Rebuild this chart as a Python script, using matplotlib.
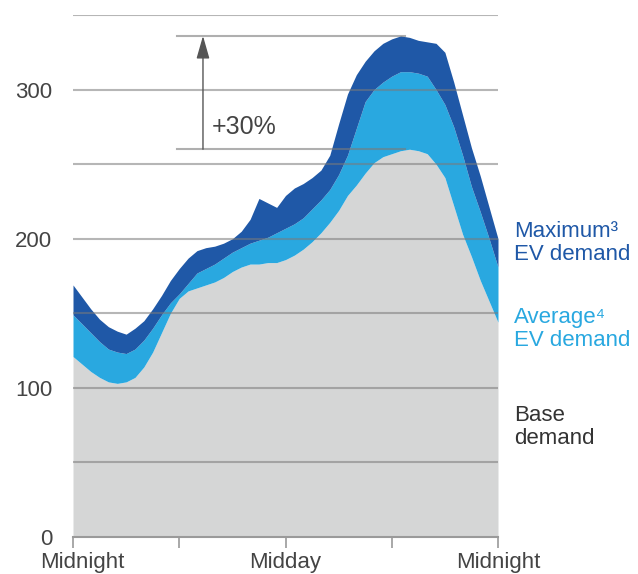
import matplotlib
matplotlib.use("Agg")
import matplotlib.pyplot as plt
from matplotlib.transforms import ScaledTranslation
from matplotlib.patches import ArrowStyle

plt.rcParams['font.family'] = ['Liberation Sans', 'DejaVu Sans']

# --- data (half-hourly, hours after midnight) ---
hours = [i * 0.5 for i in range(49)]
base_demand = [121, 116, 111, 107, 104, 103, 104, 107, 114, 124,
               137, 150, 160, 165, 167, 169, 171, 174, 178, 181,
               183, 183, 184, 184, 186, 189, 193, 198, 204, 211,
               219, 229, 236, 244, 251, 255, 257, 259, 260, 259,
               257, 250, 241, 222, 203, 188, 172, 158, 144]
average_ev = [149, 143, 137, 131, 126, 124, 123, 126, 132, 140,
              149, 157, 163, 170, 177, 180, 183, 187, 191, 194,
              197, 199, 201, 204, 207, 210, 214, 220, 226, 233,
              243, 256, 274, 292, 300, 305, 309, 312, 312, 311,
              309, 300, 290, 275, 256, 235, 218, 200, 181]
maximum_ev = [169, 161, 153, 146, 141, 138, 136, 140, 145, 153,
              162, 172, 180, 187, 192, 194, 195, 197, 200, 205,
              213, 227, 224, 221, 229, 234, 237, 241, 246, 256,
              277, 297, 310, 319, 326, 331, 334, 336, 335, 333,
              332, 331, 325, 305, 283, 261, 242, 221, 200]

y_ticks = [0, 100, 200, 300]
grid_vals = [50, 100, 150, 200, 250, 300, 350]
x_ticks = [0, 6, 12, 18, 24]
x_labels = ["Midnight", "", "Midday", "", "Midnight"]
ref_low, ref_high = 260, 336
ref_label = "+30%"

c_base = "#d5d6d6"
c_avg = "#29a8e0"
c_max = "#1f58a7"

fig = plt.figure(figsize=(6.38, 5.74), dpi=100)
ax = fig.add_axes([73 / 638, 37 / 574, 425 / 638, 522 / 574])

ax.fill_between(hours, 0, base_demand, color=c_base, lw=0, zorder=1)
ax.fill_between(hours, base_demand, average_ev, color=c_avg, lw=0, zorder=1)
ax.fill_between(hours, average_ev, maximum_ev, color=c_max, lw=0, zorder=1)

for g in grid_vals:
    ax.axhline(g, color="#7a7a7a", alpha=0.55, lw=1.5, zorder=3)

# +30% reference
x0, x1 = 5.87, 18.75
ax.plot([x0, x1], [ref_high, ref_high], color="#7a7a7a", alpha=0.6, lw=1.5, zorder=4)
ax.plot([x0, x1], [ref_low, ref_low], color="#7a7a7a", alpha=0.6, lw=1.5, zorder=4)
ax.annotate("", xy=(7.34, ref_high), xytext=(7.34, ref_low),
            arrowprops=dict(arrowstyle=ArrowStyle("-|>", head_length=1.4, head_width=0.4),
                            mutation_scale=10, color="#555555", lw=1.0,
                            shrinkA=0, shrinkB=0), zorder=5)
ax.text(7.85, 275, ref_label, fontsize=18, color="#444444", va="center", ha="left", zorder=6)

ax.set_xlim(0, 24)
ax.set_ylim(0, 350)
for s in ["left", "top", "right"]:
    ax.spines[s].set_visible(False)
ax.spines["bottom"].set_color("#9a9a9a")
ax.spines["bottom"].set_linewidth(1.5)
ax.spines["bottom"].set_zorder(6)

ax.set_yticks(y_ticks)
ax.set_yticklabels([str(v) for v in y_ticks])
ax.tick_params(axis="y", length=0, pad=15, labelsize=16, labelcolor="#444444")
ax.set_xticks(x_ticks)
ax.set_xticklabels(x_labels)
ax.tick_params(axis="x", length=8, width=1.2, color="#9a9a9a", pad=3,
               labelsize=16, labelcolor="#444444")
lbl = ax.get_xticklabels()[0]
lbl.set_transform(lbl.get_transform() + ScaledTranslation(0.09, 0, fig.dpi_scale_trans))

fig.text(514 / 638, 1 - 221 / 574, "Maximum³\nEV demand", color=c_max, fontsize=16,
         va="top", ha="left", linespacing=1.15)
fig.text(514 / 638, 1 - 307 / 574, "Average⁴\nEV demand", color=c_avg, fontsize=16,
         va="top", ha="left", linespacing=1.15)
fig.text(514 / 638, 1 - 405 / 574, "Base\ndemand", color="#333333", fontsize=16,
         va="top", ha="left", linespacing=1.15)

fig.savefig("out.png", dpi=100)
